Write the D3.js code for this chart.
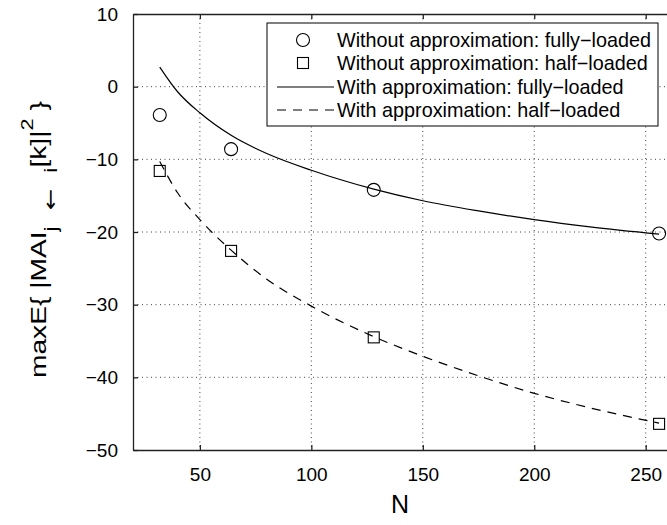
<!DOCTYPE html>
<html>
<head>
<meta charset="utf-8">
<script src="https://cdn.jsdelivr.net/npm/d3@7"></script>
<style>
  body { margin: 0; background: #fff; }
  svg { display: block; font-family: "Liberation Sans", Arial, sans-serif; }
</style>
</head>
<body>
<svg width="667" height="525"></svg>
<script>
// values
const nMarks = [32, 64, 128, 256];
const fullExact = [-3.9, -8.6, -14.2, -20.2];
const halfExact = [-11.6, -22.6, -34.5, -46.4];

const nCurve = [32, 40, 50, 64, 80, 100, 128, 150, 175, 200, 225, 256];
const fullApprox = [2.7, -0.7, -3.6, -6.7, -9.2, -11.5, -14.1, -15.7, -17.1, -18.3, -19.3, -20.3];
const halfApprox = [-10.3, -14.6, -18.3, -22.5, -26.5, -30.2, -34.4, -37.1, -39.8, -42.2, -44.2, -46.3];

const xTicks = [50, 100, 150, 200, 250];
const yTicks = [-50, -40, -30, -20, -10, 0, 10];

const legendLabels = [
  'Without approximation: fully\u2212loaded',
  'Without approximation: half\u2212loaded',
  'With approximation: fully\u2212loaded',
  'With approximation: half\u2212loaded',
];

let svg = d3.select('svg');
let x = d3.scaleLinear().domain([20, 260]).range([133, 668]);
let y = d3.scaleLinear().domain([-50, 10]).range([450, 14]);

// grid
let grid = svg.append('g').attr('stroke', '#444').attr('stroke-width', 1).attr('stroke-dasharray', '1,3.5');
grid.selectAll('.gx').data(xTicks).enter().append('line')
  .attr('x1', (d) => x(d)).attr('x2', (d) => x(d))
  .attr('y1', y(10)).attr('y2', y(-50));
grid.selectAll('.gy').data(yTicks.slice(1, -1)).enter().append('line')
  .attr('x1', x(20)).attr('x2', x(260))
  .attr('y1', (d) => y(d)).attr('y2', (d) => y(d));

// axes
function styleAxis(g) {
  g.selectAll('path, line').attr('stroke', '#222').attr('stroke-width', 1.3);
  g.selectAll('text').attr('fill', '#000').attr('font-size', 19).attr('font-family', '"Liberation Sans", Arial, sans-serif');
}
svg.append('g').attr('transform', `translate(0,${y(-50)})`)
  .call(d3.axisBottom(x).tickValues(xTicks).tickSizeInner(-5).tickSizeOuter(0).tickPadding(18))
  .call(styleAxis);
svg.append('g').attr('transform', `translate(0,${y(10)})`)
  .call(d3.axisTop(x).tickValues(xTicks).tickSizeInner(-5).tickSizeOuter(0).tickFormat(''))
  .call(styleAxis);
svg.append('g').attr('transform', `translate(${x(20)},0)`)
  .call(d3.axisLeft(y).tickValues(yTicks).tickSizeInner(-5).tickSizeOuter(0).tickPadding(15))
  .call(styleAxis);

// approximation curves
let line = d3.line().x((d) => x(d[0])).y((d) => y(d[1])).curve(d3.curveMonotoneX);
svg.append('path').datum(nCurve.map((n, i) => [n, fullApprox[i]]))
  .attr('d', line).attr('fill', 'none').attr('stroke', '#000').attr('stroke-width', 1.2);
svg.append('path').datum(nCurve.map((n, i) => [n, halfApprox[i]]))
  .attr('d', line).attr('fill', 'none').attr('stroke', '#000').attr('stroke-width', 1.2)
  .attr('stroke-dasharray', '9,7');

// exact markers
svg.append('g').selectAll('circle').data(nMarks).enter().append('circle')
  .attr('cx', (d) => x(d)).attr('cy', (d, i) => y(fullExact[i])).attr('r', 6.5)
  .attr('fill', 'none').attr('stroke', '#000').attr('stroke-width', 1.1);
svg.append('g').selectAll('rect').data(nMarks).enter().append('rect')
  .attr('x', (d) => x(d) - 5.5).attr('y', (d, i) => y(halfExact[i]) - 5.5)
  .attr('width', 11).attr('height', 11)
  .attr('fill', 'none').attr('stroke', '#000').attr('stroke-width', 1.1);

// legend
let lg = svg.append('g');
lg.append('rect').attr('x', 267).attr('y', 23).attr('width', 391).attr('height', 103)
  .attr('fill', '#fff').attr('stroke', '#000').attr('stroke-width', 1);
let rowY = [40, 63, 87, 110];
lg.selectAll('text').data(legendLabels).enter().append('text')
  .attr('x', 337).attr('y', (d, i) => rowY[i] + 7)
  .attr('font-size', 19.8).text((d) => d);
lg.append('circle').attr('cx', 303).attr('cy', rowY[0]).attr('r', 6.5)
  .attr('fill', 'none').attr('stroke', '#000').attr('stroke-width', 1.1);
lg.append('rect').attr('x', 297.5).attr('y', rowY[1] - 5.5).attr('width', 11).attr('height', 11)
  .attr('fill', 'none').attr('stroke', '#000').attr('stroke-width', 1.1);
lg.append('line').attr('x1', 277).attr('x2', 334).attr('y1', rowY[2]).attr('y2', rowY[2])
  .attr('stroke', '#000').attr('stroke-width', 1.2);
lg.append('line').attr('x1', 277).attr('x2', 334).attr('y1', rowY[3]).attr('y2', rowY[3])
  .attr('stroke', '#000').attr('stroke-width', 1.2).attr('stroke-dasharray', '9,7');

// axis labels
svg.append('text').attr('x', 400).attr('y', 513).attr('text-anchor', 'middle')
  .attr('font-size', 25).text('N');

let yl = svg.append('text').attr('transform', 'translate(46,378) rotate(-90) scale(1.28,1)')
  .attr('font-size', 22);
yl.append('tspan').text('maxE{ |MAI');
yl.append('tspan').attr('dy', 11).attr('font-size', 18).text('j\u2002\u2009');
yl.append('tspan').attr('font-size', 20).attr('font-family', '"DejaVu Sans", sans-serif').text('\u2190');
yl.append('tspan').attr('font-size', 18).text('\u2002\u2009i');
yl.append('tspan').attr('dy', -11).text('[k]|');
yl.append('tspan').attr('dy', -13).attr('font-size', 17).text('2');
yl.append('tspan').attr('dy', 13).text(' }');
</script>
</body>
</html>
